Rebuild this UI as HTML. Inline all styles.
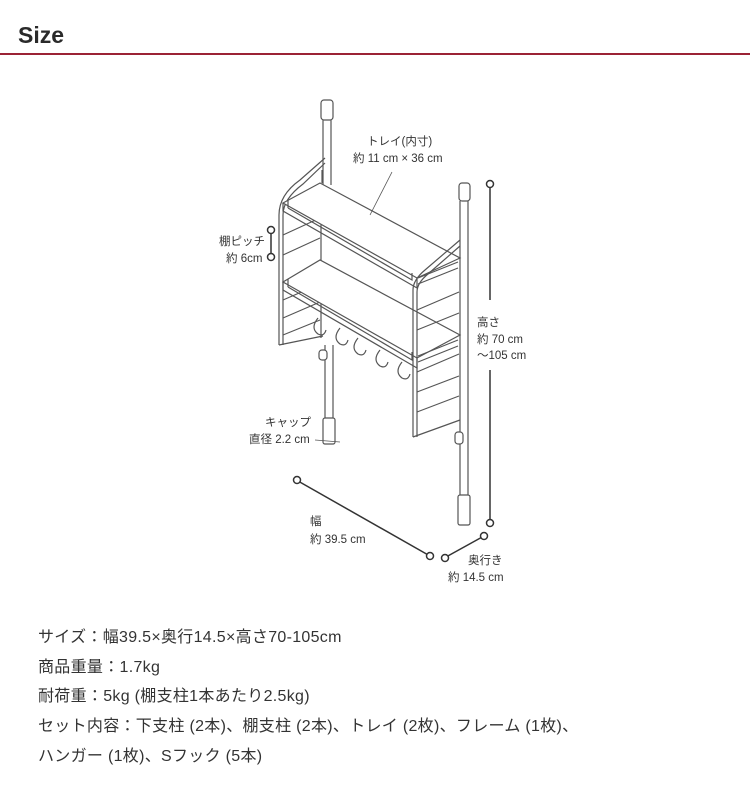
<!DOCTYPE html>
<html><head><meta charset="utf-8"><style>
body{margin:0;background:#fff;width:750px;height:794px;overflow:hidden;position:relative;font-family:"Liberation Sans","Noto Sans CJK JP",sans-serif;color:#333}
.h{position:absolute;left:18px;top:22px;font-size:23px;font-weight:bold;color:#2a2a2a}
.rule{position:absolute;left:0;top:53px;width:750px;height:2px;background:#9b2335}
.t{position:absolute;left:38px;font-size:16px;letter-spacing:0.3px;color:#333;white-space:nowrap}
svg{position:absolute;left:0;top:0}
svg text{font-family:"Liberation Sans","Noto Sans CJK JP",sans-serif;font-size:11.5px;fill:#333}
</style></head><body>
<div class="h">Size</div><div class="rule"></div>
<svg width="750" height="600" viewBox="0 0 750 600">
<g fill="none" stroke="#555" stroke-width="1.2">
<rect x="321" y="100" width="12" height="20" rx="3" fill="#fff"/>
<line x1="323" y1="120" x2="323" y2="190"/><line x1="331" y1="120" x2="331" y2="185"/>
<path d="M279 345 L279 215 Q279 195 300 180 L325 158"/>
<path d="M283 345 L283 215 Q283 199 303 184 L325 163"/>
<line x1="279" y1="345" x2="323" y2="336"/>
<line x1="321" y1="200" x2="321" y2="338"/>
<g stroke-width="1.1">
<line x1="283" y1="235" x2="320" y2="218"/><line x1="283" y1="255" x2="320" y2="238"/>
<line x1="283" y1="300" x2="320" y2="284"/><line x1="283" y1="318" x2="320" y2="302"/>
<line x1="283" y1="335" x2="320" y2="320"/>
</g>
<path d="M283 203 L320 183 L460 258 L417 278 Z" fill="#fff"/>
<path d="M283 203 L283 211 L417 288 L417 278"/>
<path d="M288 208 L288 200 M288 208 L412 280 L412 273"/>
<path d="M283 282 L320 260 L460 335 L417 358 Z" fill="#fff"/>
<path d="M283 282 L283 290 L417 368 L417 358"/>
<path d="M288 287 L288 279 M288 287 L412 360 L412 352"/>
<line x1="322" y1="170" x2="322" y2="183"/>
<path d="M318 318 q-8 10 0 16 q6 3 8 -4"/><path d="M340 328 q-8 10 0 16 q6 3 8 -4"/>
<path d="M358 338 q-8 10 0 16 q6 3 8 -4"/><path d="M380 350 q-8 10 0 16 q6 3 8 -4"/>
<path d="M402 362 q-8 10 0 16 q6 3 8 -4"/>
<line x1="325" y1="345" x2="325" y2="420"/><line x1="333" y1="345" x2="333" y2="420"/>
<rect x="319" y="350" width="8" height="10" rx="3" fill="#fff"/>
<rect x="323" y="418" width="12" height="26" rx="2" fill="#fff"/>
<path d="M413 437 L413 290 Q413 280 425 270 L460 240"/>
<path d="M417 437 L417 292 Q417 283 428 274 L460 246"/>
<line x1="413" y1="437" x2="460" y2="420"/>
<g stroke-width="1.1">
<line x1="417" y1="310" x2="459" y2="292"/><line x1="417" y1="330" x2="459" y2="313"/>
<line x1="417" y1="372" x2="459" y2="354"/><line x1="417" y1="392" x2="459" y2="376"/>
<line x1="417" y1="412" x2="459" y2="396"/>
</g>
<path d="M418 278 L458 262 M418 284 L458 268"/>
<path d="M418 356 L458 340 M418 362 L458 346"/>
<rect x="459" y="183" width="11" height="18" rx="3" fill="#fff"/>
<line x1="460" y1="201" x2="460" y2="495"/><line x1="468" y1="201" x2="468" y2="495"/>
<rect x="455" y="432" width="8" height="12" rx="3" fill="#fff"/>
<rect x="458" y="495" width="12" height="30" rx="2" fill="#fff"/>
<line x1="392" y1="172" x2="370" y2="215" stroke-width="0.8"/>
<line x1="315" y1="440" x2="340" y2="442" stroke-width="0.8"/>
</g>
<g stroke="#333" stroke-width="1.5" fill="#fff">
<line x1="490" y1="186" x2="490" y2="300"/><line x1="490" y1="370" x2="490" y2="520"/>
<circle cx="490" cy="184" r="3.5"/><circle cx="490" cy="523" r="3.5"/>
<line x1="271" y1="232" x2="271" y2="255"/>
<circle cx="271" cy="230" r="3.5"/><circle cx="271" cy="257" r="3.5"/>
<line x1="298" y1="481" x2="430" y2="556"/>
<circle cx="297" cy="480" r="3.5"/><circle cx="430" cy="556" r="3.5"/>
<line x1="446" y1="557" x2="484" y2="536"/>
<circle cx="445" cy="558" r="3.5"/><circle cx="484" cy="536" r="3.5"/>
</g>
<text x="367" y="145">トレイ(内寸)</text>
<text x="353" y="162">約 11 cm × 36 cm</text>
<text x="219" y="245">棚ピッチ</text>
<text x="226" y="262">約 6cm</text>
<text x="477" y="326">高さ</text>
<text x="477" y="343">約 70 cm</text>
<text x="477" y="359">～105 cm</text>
<text x="265" y="426">キャップ</text>
<text x="249" y="443">直径 2.2 cm</text>
<text x="310" y="525">幅</text>
<text x="310" y="543">約 39.5 cm</text>
<text x="468" y="564">奥行き</text>
<text x="448" y="581">約 14.5 cm</text>
</svg>
<div class="t" style="top:623px">サイズ：幅39.5×奥行14.5×高さ70-105cm</div>
<div class="t" style="top:653px">商品重量：1.7kg</div>
<div class="t" style="top:682px">耐荷重：5kg (棚支柱1本あたり2.5kg)</div>
<div class="t" style="top:712px">セット内容：下支柱 (2本)、棚支柱 (2本)、トレイ (2枚)、フレーム (1枚)、</div>
<div class="t" style="top:742px">ハンガー (1枚)、Sフック (5本)</div>
</body></html>
